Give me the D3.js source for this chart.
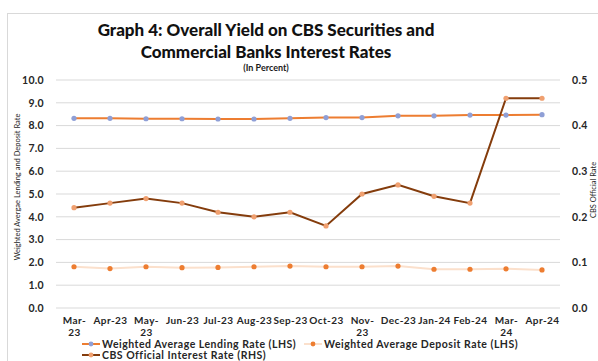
<!DOCTYPE html>
<html>
<head>
<meta charset="utf-8">
<title>Graph 4</title>
<script src="https://d3js.org/d3.v7.min.js"></script>
<style>
body { margin: 0; background: white; font-family: "Lato", "Open Sans", sans-serif; }
.tick text { font-weight: bold; }
</style>
</head>
<body>
<script>
// chart data
var months = ["Mar-23","Apr-23","May-23","Jun-23","Jul-23","Aug-23","Sep-23","Oct-23","Nov-23","Dec-23","Jan-24","Feb-24","Mar-24","Apr-24"];
var monthLabels = ["Mar-|23","Apr-23","May-|23","Jun-23","Jul-23","Aug-23","Sep-23","Oct-23","Nov-|23","Dec-23","Jan-24","Feb-24","Mar-|24","Apr-24"];
var lending = [8.32,8.32,8.30,8.30,8.29,8.29,8.32,8.35,8.35,8.43,8.43,8.46,8.46,8.48];
var deposit = [1.81,1.73,1.81,1.77,1.78,1.81,1.84,1.81,1.81,1.84,1.70,1.70,1.72,1.67];
var cbsRate = [0.22,0.23,0.24,0.23,0.21,0.20,0.21,0.18,0.25,0.27,0.245,0.23,0.46,0.46];
var leftTicks = [0,1,2,3,4,5,6,7,8,9,10];
var rightTicks = [0,0.1,0.2,0.3,0.4,0.5];

var width = 598, height = 361;
var svg = d3.select("body").append("svg")
  .attr("width", width).attr("height", height);

// frame
svg.append("rect")
  .attr("x", 7.5).attr("y", 13.5)
  .attr("width", 620).attr("height", 400)
  .attr("fill", "white").attr("stroke", "#d9d9d9");

// titles
svg.append("text").attr("x", 266).attr("y", 36)
  .attr("text-anchor", "middle").attr("font-size", 17).attr("font-weight", 900)
  .attr("fill", "#111")
  .text("Graph 4: Overall Yield on CBS Securities and");
svg.append("text").attr("x", 266).attr("y", 58)
  .attr("text-anchor", "middle").attr("font-size", 17).attr("font-weight", 900)
  .attr("fill", "#111")
  .text("Commercial Banks Interest Rates");
svg.append("text").attr("x", 266).attr("y", 71)
  .attr("text-anchor", "middle").attr("font-size", 9).attr("font-weight", "bold")
  .attr("fill", "#1a1a1a")
  .text("(In Percent)");

var x = d3.scalePoint().domain(months).range([56, 560]).padding(0.5);
var yL = d3.scaleLinear().domain([0, 10]).range([308, 80]);
var yR = d3.scaleLinear().domain([0, 0.5]).range([308, 80]);

// gridlines
svg.append("g").selectAll("line")
  .data(leftTicks).enter().append("line")
  .attr("x1", 56).attr("x2", 560)
  .attr("y1", function(d){ return yL(d); })
  .attr("y2", function(d){ return yL(d); })
  .attr("stroke", "#d9d9d9").attr("stroke-width", 1);

// left axis
var gL = svg.append("g").attr("transform", "translate(47,0)")
  .call(d3.axisLeft(yL).tickValues(leftTicks).tickFormat(d3.format(".1f")).tickSize(0));
gL.select(".domain").remove();
gL.selectAll("text").attr("font-size", 10.5).attr("fill", "#262626")
  .attr("font-family", "Lato, sans-serif").attr("letter-spacing", 0.3);

// right axis
var gR = svg.append("g").attr("transform", "translate(569,0)")
  .call(d3.axisRight(yR).tickValues(rightTicks).tickFormat(d3.format(".1f")).tickSize(0));
gR.select(".domain").remove();
gR.selectAll("text").attr("font-size", 10.5).attr("fill", "#262626")
  .attr("font-family", "Lato, sans-serif").attr("letter-spacing", 0.3);

// x axis labels
var gX = svg.append("g").attr("transform", "translate(0,314)")
  .call(d3.axisBottom(x).tickSize(0).tickFormat(function(d, i){ return ""; }));
gX.select(".domain").remove();
gX.selectAll(".tick text").each(function(d, i){
  var parts = monthLabels[i].split("|");
  var t = d3.select(this).attr("font-size", 10).attr("fill", "#262626")
    .attr("font-family", "Lato, sans-serif").attr("letter-spacing", 0.4);
  parts.forEach(function(p, k){
    t.append("tspan").attr("x", 0).attr("dy", k == 0 ? "0.71em" : "1.15em").text(p);
  });
});

// axis titles
svg.append("text")
  .attr("transform", "translate(20,187) rotate(-90)")
  .attr("text-anchor", "middle").attr("font-size", 7.5).attr("fill", "#262626")
  .text("Weighted Avergae Lending and Deposit Rate");
svg.append("text")
  .attr("transform", "translate(596,190) rotate(-90)")
  .attr("text-anchor", "middle").attr("font-size", 7.5).attr("fill", "#262626")
  .text("CBS Official Rate");

// lines
var lineL = d3.line().x(function(d, i){ return x(months[i]); }).y(function(d){ return yL(d); });
var lineR = d3.line().x(function(d, i){ return x(months[i]); }).y(function(d){ return yR(d); });

var series = [
  { name: "Weighted Average Lending Rate (LHS)", values: lending, gen: lineL, y: yL, line: "#ed7d31", dot: "#8f9fd6" },
  { name: "Weighted Average Deposit Rate (LHS)", values: deposit, gen: lineL, y: yL, line: "#fbe0cc", dot: "#ed7d31" },
  { name: "CBS Official Interest Rate (RHS)", values: cbsRate, gen: lineR, y: yR, line: "#843c0c", dot: "#f0a070" }
];

series.forEach(function(s){
  svg.append("path").datum(s.values)
    .attr("d", s.gen).attr("fill", "none")
    .attr("stroke", s.line).attr("stroke-width", 2);
  svg.append("g").selectAll("circle")
    .data(s.values).enter().append("circle")
    .attr("cx", function(d, i){ return x(months[i]); })
    .attr("cy", function(d){ return s.y(d); })
    .attr("r", 2.6).attr("fill", s.dot);
});

// legend
var legendPos = [[82, 344], [304, 344], [82, 355]];
series.forEach(function(s, i){
  var g = svg.append("g").attr("transform", "translate(" + legendPos[i][0] + "," + legendPos[i][1] + ")");
  g.append("line").attr("x1", 0).attr("x2", 18).attr("y1", 0).attr("y2", 0)
    .attr("stroke", s.line).attr("stroke-width", 2);
  g.append("circle").attr("cx", 9).attr("cy", 0).attr("r", 2.4).attr("fill", s.dot);
  g.append("text").attr("x", 20).attr("y", 3.6)
    .attr("font-size", 10.5).attr("font-weight", "bold").attr("fill", "#262626")
    .attr("letter-spacing", 0.5)
    .text(s.name);
});
</script>
</body>
</html>
